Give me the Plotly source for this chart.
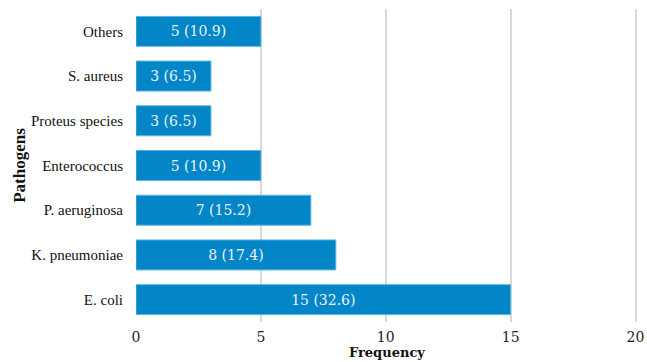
import plotly.graph_objects as go

categories = ["E. coli", "K. pneumoniae", "P. aeruginosa", "Enterococcus", "Proteus species", "S. aureus", "Others"]
frequency = [15, 8, 7, 5, 3, 3, 5]
percent = [32.6, 17.4, 15.2, 10.9, 6.5, 6.5, 10.9]
x_ticks = [0, 5, 10, 15, 20]

labels = [f"{f} ({p})" for f, p in zip(frequency, percent)]

SERIF = "Liberation Serif, Times New Roman, serif"
NUMF = "DejaVu Serif, serif"

fig = go.Figure(go.Bar(
    y=categories, x=frequency, orientation="h",
    marker=dict(color="#0286C8", line=dict(color="#5AB3E0", width=1)),
    text=labels, textposition="inside", insidetextanchor="middle",
    textfont=dict(family=NUMF, size=14, color="#EAF3FA"),
    width=0.67,
))

fig.update_layout(
    width=647, height=362,
    margin=dict(l=136, r=8.5, t=9, b=40, autoexpand=False),
    plot_bgcolor="white", paper_bgcolor="white",
    showlegend=False,
    xaxis=dict(
        range=[0, 20.1], tickvals=x_ticks, showgrid=True, gridcolor="#D9D9D9", gridwidth=2,
        zeroline=False, showline=False, automargin=False,
        tickfont=dict(family=NUMF, size=14, color="#222"),
        ticklabelstandoff=5,
        ticks="",
    ),
    yaxis=dict(
        categoryorder="array", categoryarray=categories, automargin=True,
        tickfont=dict(family=SERIF, size=15, color="#111"),
        title=dict(text="<b>Pathogens</b>", font=dict(family=SERIF, size=17, color="#111"), standoff=0),
        showgrid=False, ticks="", ticklen=0, range=[-0.5, 6.5], ticklabelstandoff=12,
    ),
    annotations=[dict(
        text="<b>Frequency</b>", xref="paper", yref="paper", x=0.5, y=-0.125,
        xanchor="center", yanchor="bottom", showarrow=False, borderpad=0,
        font=dict(family=NUMF, size=13, color="#111"),
    )],
)

fig.write_html("out.html")
